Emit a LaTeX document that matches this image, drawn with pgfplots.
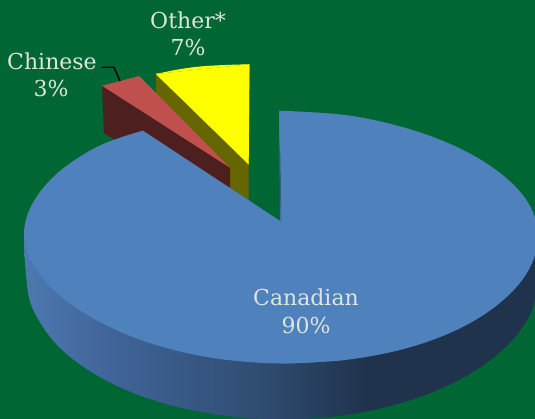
\documentclass[border=0pt]{standalone}
\usepackage{fontspec}
\setmainfont{DejaVu Serif}
\usepackage{pgfplots}
\pgfplotsset{compat=1.18}
\definecolor{bg}{HTML}{006633}
\definecolor{blue1}{HTML}{4F81BD}
\definecolor{red1}{HTML}{C0504D}
\definecolor{red2}{HTML}{4D201F}
\definecolor{yel1}{HTML}{FFFF00}
\definecolor{yel2}{HTML}{666600}
\definecolor{lab}{HTML}{DCE6DC}
\definecolor{s1}{HTML}{4C79B0}
\definecolor{s2}{HTML}{41659A}
\definecolor{s3}{HTML}{2E4A6E}
\definecolor{s4}{HTML}{1F334D}
% bbox of the side wall maps to 25bp..75bp
\pgfdeclarehorizontalshading{sidewall}{100bp}{color(0bp)=(s1); color(25bp)=(s1); color(33bp)=(s2); color(49bp)=(s3); color(58bp)=(s4); color(100bp)=(s4)}
\begin{document}
\begin{tikzpicture}
\begin{axis}[
    hide axis, scale only axis,
    width=535pt, height=419pt,
    xmin=0, xmax=535, ymin=0, ymax=419,
    y dir=reverse,
    clip=true,
    every axis plot/.append style={forget plot},
]
% background
\addplot[fill=bg, draw=none] coordinates {(0,0) (535,0) (535,419) (0,419) (0,0)};
% Other
\addplot[fill=yel2, draw=none] coordinates {(156,74) (248.7,164) (248.7,201) (229,188) (156,110) (156,74)};
\addplot[fill=yel1, draw=none, smooth, tension=0.6] coordinates {(156,74) (178,69.5) (200,66.5) (225,65) (249.3,64.3)};
\addplot[fill=yel1, draw=yel1, line width=0.2pt, line join=round] coordinates {(156,74) (249.3,64.3) (248.7,164.3) (156,74)};
% Chinese
\addplot[fill=red2, draw=none] coordinates {(102,85.7) (230,167.7) (230,189) (140,135) (115,140) (104,133.3) (102,85.7)};
\addplot[fill=red1, draw=none] coordinates {(102,85.7) (139.3,76) (230,167.7) (102,85.7)};
% Canadian, side wall
\addplot[shade, shading=sidewall, draw=none, smooth, tension=0.6] coordinates {
    (24,234) (26,275) (32.8,309) (58.4,346.3) (99.3,376.7) (152.5,399.9) (214.5,414.2) (281,419.5) (347.5,414.7) (409.5,400.4) (462.7,378) (503.6,348.8) (529.2,316) (538,280) (538,236)};
% Canadian, top
\addplot[fill=blue1, draw=none, smooth, tension=0.6] coordinates {
    (279.3,110.7) (347.5,115.3) (409.5,129.1) (462.7,149.8) (503.6,175.8) (529.2,204.5) (538,236) (529.2,269) (503.6,299.8) (462.7,327) (409.5,347.4) (347.5,359.7) (281,363.5)};
\addplot[fill=blue1, draw=none, smooth, tension=0.6] coordinates {
    (347.5,359.7) (281,363.5) (214.5,358.2) (152.5,343.9) (99.3,321.7) (58.4,294.3) (32.8,264) (24,234) (32.8,203) (58.4,172.3) (99.3,145.8) (142.7,130.7)};
\addplot[fill=blue1, draw=blue1, line width=0.2pt, line join=round] coordinates {(279.3,110.7) (300,350) (281,363.5) (142.7,130.7) (281,221.7) (279.3,110.7)};
\addplot[draw=s3, line width=0.5pt] coordinates {(279.9,150) (281,221.7)};
% leader
\addplot[draw=black, line width=1.4pt] coordinates {(101.7,67.3) (114,67.3) (120,81)};
\node[lab, font=\fontsize{22}{26}\selectfont] at (axis cs:188,20) {Other*};
\node[lab, font=\fontsize{22}{26}\selectfont] at (axis cs:188,47) {7\%};
\node[lab, font=\fontsize{22}{26}\selectfont] at (axis cs:52,61) {Chinese};
\node[lab, font=\fontsize{22}{26}\selectfont] at (axis cs:51,88) {3\%};
\node[lab, font=\fontsize{22}{26}\selectfont] at (axis cs:306,297) {Canadian};
\node[lab, font=\fontsize{22}{26}\selectfont] at (axis cs:306,325) {90\%};
\end{axis}
\end{tikzpicture}
\end{document}
